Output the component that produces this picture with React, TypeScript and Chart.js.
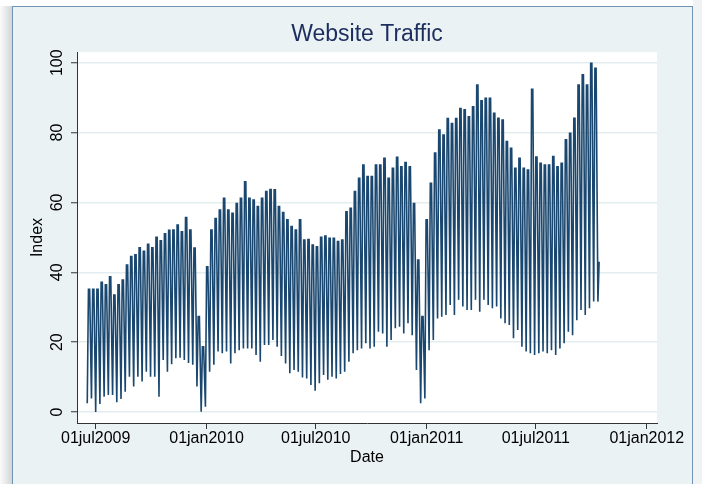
import React, { useEffect, useRef } from "react";
import { Chart, registerables } from "chart.js";

Chart.register(...registerables);

// Days are counted from 01jul2009 (day 0). First weekly low falls on day -14.
const FIRST_WEEK_DAY = -14;

// Weekly weekend lows (index)
const weeklyLows: number[] = [
  2.5, 3.9, 0, 2.3, 4.4, 4.9, 4.9, 2.8, 3.7, 5.8, 10.1, 7.3, 10.1, 8.7, 11.5, 10.1, 10.1, 4.4, 14.9, 11.5, 13.7, 15.4,
  15.5, 14.9, 14, 13.5, 7.3, 0.1, 1.5, 11.5, 13.5, 17.3, 16.8, 17.3, 13.9, 16.8, 17.7, 18.2, 18.2, 18.2, 16.3, 14.4, 19.2, 19.2,
  20.6, 18.7, 16.0, 13.9, 11.1, 12.0, 11.5, 9.9, 9.6, 7.7, 6.1, 8.2, 10.6, 9.2, 10.1, 9.6, 10.9, 11.5, 14.4, 16.8, 17.7, 18.2, 19.7,
  18.2, 18.7, 23.0, 22.5, 18.7, 20.6, 24.0, 24.4, 22.5, 25.4, 22.0, 12.0, 2.5, 3.9, 17.7, 20.6, 26.8, 27.3, 27.8, 30.6, 27.8, 32.1,
  30.2, 29.2, 29.2, 32.1, 28.7, 32.1, 30.6, 29.7, 30.2, 26.8, 25.4, 24.9, 21.1, 23.5, 18.7, 17.3, 16.8, 16.3,
  16.8, 17.3, 16.8, 17.7, 16.3, 18.2, 19.7, 23.0, 22.0, 26.3, 29.2, 27.8, 29.7, 31.6, 31.6,
];

// Weekly weekday highs (index)
const weeklyHighs: number[] = [
  35.1, 35.1, 35.1, 37.1, 36.4, 38.7, 33.5, 36.4, 37.8, 42.1, 44.5, 45, 47, 46, 48, 47, 50, 49, 51, 52, 52.1, 53.5,
  51.6, 55.7, 52.1, 46.9, 27.3, 18.7, 41.6, 52.1, 55.4, 57.8, 61.2, 57.8, 56.9, 59.7, 61.2, 65.9, 61.2, 60.7, 58.8, 61.2, 63.1, 63.7,
  63.6, 58.8, 57.1, 55.0, 53.1, 52.1, 55.0, 49.2, 49.4, 47.8, 47.3, 50.0, 50.4, 49.7, 49.7, 48.8, 49.2, 57.3, 58.3, 63.1, 66.9, 70.7, 67.4,
  67.4, 70.7, 70.7, 72.6, 66.9, 69.8, 72.9, 70.2, 71.4, 70.2, 59.7, 43.5, 27.3, 55.0, 65.5, 74.1, 80.7, 79.3, 84, 82.6, 84, 86.9,
  86.5, 84.5, 87.4, 93.6, 89.1, 89.8, 89.8, 85.5, 84.1, 83.6, 77.4, 75.5, 69.8, 72.6, 69.8, 69.3, 92.4, 73.0,
  71.2, 70.7, 70.7, 73.1, 70.2, 71.2, 77.9, 79.8, 84.1, 93.6, 96.5, 93.6, 99.8, 98.4, 43.0,
];

const xTickDays: number[] = [0, 184, 365, 549, 730, 914];
const xTickLabels: string[] = ["01jul2009", "01jan2010", "01jul2010", "01jan2011", "01jul2011", "01jan2012"];
const yTickValues: number[] = [0, 20, 40, 60, 80, 100];
const yTickLabels: string[] = ["0", "20", "40", "60", "80", "100"];

const FONT = "'Liberation Sans', Arial, Helvetica, sans-serif";

function buildPoints() {
  const pts: { x: number; y: number }[] = [];
  weeklyLows.forEach((low, i) => {
    const d = FIRST_WEEK_DAY + 7 * i;
    pts.push({ x: d, y: low });
    pts.push({ x: d + 2, y: weeklyHighs[i] });
    if (i < weeklyLows.length - 1) pts.push({ x: d + 4, y: weeklyHighs[i] });
  });
  return pts;
}

const framePlugin = {
  id: "stataFrame",
  beforeDraw(chart: any) {
    const { ctx, width, height, chartArea } = chart;
    ctx.save();
    ctx.fillStyle = "#ffffff";
    ctx.fillRect(0, 0, width, height);
    const g = ctx.createLinearGradient(0, 0, 12, 0);
    g.addColorStop(0, "#fbfbfb");
    g.addColorStop(1, "#d2d6d8");
    ctx.fillStyle = g;
    ctx.fillRect(0, 6, 12, height - 6);
    ctx.fillStyle = "#f1f2f3";
    ctx.fillRect(693, 0, width - 693, height);
    ctx.fillStyle = "#eaf2f3";
    ctx.fillRect(12, 6, 681, height - 6);
    ctx.strokeStyle = "#6f93b2";
    ctx.lineWidth = 1;
    ctx.strokeRect(12.5, 6.5, 680, height + 10);
    ctx.fillStyle = "#ffffff";
    ctx.fillRect(chartArea.left, chartArea.top, chartArea.right - chartArea.left, chartArea.bottom - chartArea.top);
    ctx.restore();
  },
  afterDraw(chart: any) {
    const { ctx } = chart;
    const yScale = chart.scales.y;
    ctx.save();
    ctx.fillStyle = "#000000";
    ctx.font = `16px ${FONT}`;
    ctx.textAlign = "center";
    ctx.textBaseline = "alphabetic";
    yTickValues.forEach((v, i) => {
      const py = yScale.getPixelForValue(v);
      ctx.save();
      ctx.translate(62, py);
      ctx.rotate(-Math.PI / 2);
      ctx.fillText(yTickLabels[i], 0, 0);
      ctx.restore();
    });
    ctx.restore();
  },
};

export default function App() {
  const canvasRef = useRef<HTMLCanvasElement | null>(null);

  useEffect(() => {
    if (!canvasRef.current) return;
    const chart = new Chart(canvasRef.current, {
      type: "line",
      data: {
        datasets: [
          {
            label: "Index",
            data: buildPoints(),
            borderColor: "#1a476f",
            borderWidth: 1.6,
            pointRadius: 0,
            tension: 0,
            fill: false,
          },
        ],
      },
      options: {
        animation: false,
        responsive: false,
        devicePixelRatio: 1,
        layout: { padding: { left: 0, right: 45, top: 0, bottom: 0 } },
        plugins: {
          legend: { display: false },
          tooltip: { enabled: false },
          title: {
            display: true,
            fullSize: false,
            text: "Website Traffic",
            color: "#1c2d5e",
            font: { family: FONT, size: 23, weight: "normal" },
            padding: { top: 20.5, bottom: 3.9 },
          },
        },
        scales: {
          x: {
            type: "linear",
            min: -31,
            max: 931,
            afterBuildTicks: (scale: any) => {
              scale.ticks = xTickDays.map((v) => ({ value: v }));
            },
            afterFit: (scale: any) => {
              scale.height = 61;
            },
            ticks: {
              autoSkip: false,
              maxRotation: 0,
              minRotation: 0,
              padding: 0,
              color: "#000000",
              font: { family: FONT, size: 16 },
              callback: (_v: any, i: number) => xTickLabels[i],
            },
            grid: {
              drawOnChartArea: false,
              drawTicks: true,
              tickLength: 6,
              tickColor: "#333333",
              tickWidth: 1,
            },
            border: { display: true, color: "#333333", width: 1 },
            title: {
              display: true,
              text: "Date",
              color: "#000000",
              font: { family: FONT, size: 16 },
              padding: { top: 0, bottom: 16.4 },
            },
          },
          y: {
            type: "linear",
            min: -3.15,
            max: 103.06,
            afterBuildTicks: (scale: any) => {
              scale.ticks = yTickValues.map((v) => ({ value: v }));
            },
            afterFit: (scale: any) => {
              scale.width = 77;
            },
            ticks: { display: false },
            grid: {
              color: "#e3edf0",
              lineWidth: 1.5,
              drawTicks: true,
              tickLength: 6,
              tickColor: "#333333",
              tickWidth: 1,
            },
            border: { display: true, color: "#333333", width: 1 },
            title: {
              display: true,
              text: "Index",
              color: "#000000",
              font: { family: FONT, size: 16 },
              padding: { top: 28.4, bottom: 0 },
            },
          },
        },
      },
      plugins: [framePlugin],
    });
    return () => chart.destroy();
  }, []);

  return (
    <div style={{ position: "fixed", left: 0, top: 0, width: 702, height: 484 }}>
      <canvas ref={canvasRef} width={702} height={484} style={{ display: "block" }} />
    </div>
  );
}
